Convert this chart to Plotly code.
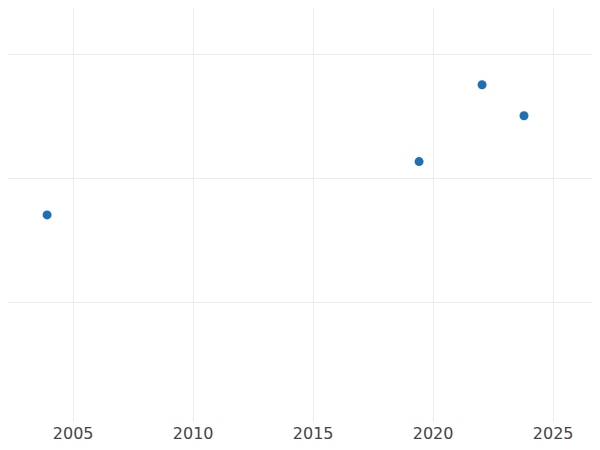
import plotly.graph_objects as go

dates = ["2003-12-01", "2019-06-01", "2022-01-15", "2023-10-15"]
values = [1.71, 2.14, 2.76, 2.51]

fig = go.Figure(go.Scatter(x=dates, y=values, mode="markers",
                           marker=dict(color="#1f6fb4", size=9)))
fig.update_layout(
    width=584, height=442, template="plotly_white", showlegend=False,
    margin=dict(l=0, r=0, t=0, b=28),
    xaxis=dict(type="date", range=["2002-04-15", "2026-08-15"], dtick="M60",
               tick0="2005-01-01", tickformat="%Y", showline=False, zeroline=False,
               gridcolor="#ebebeb", tickfont=dict(size=16, color="#444", family="DejaVu Sans")),
    yaxis=dict(range=[0.04, 3.379], dtick=1, tick0=0, showticklabels=False,
               zeroline=False, gridcolor="#ebebeb"),
)
fig.write_html("out.html")
